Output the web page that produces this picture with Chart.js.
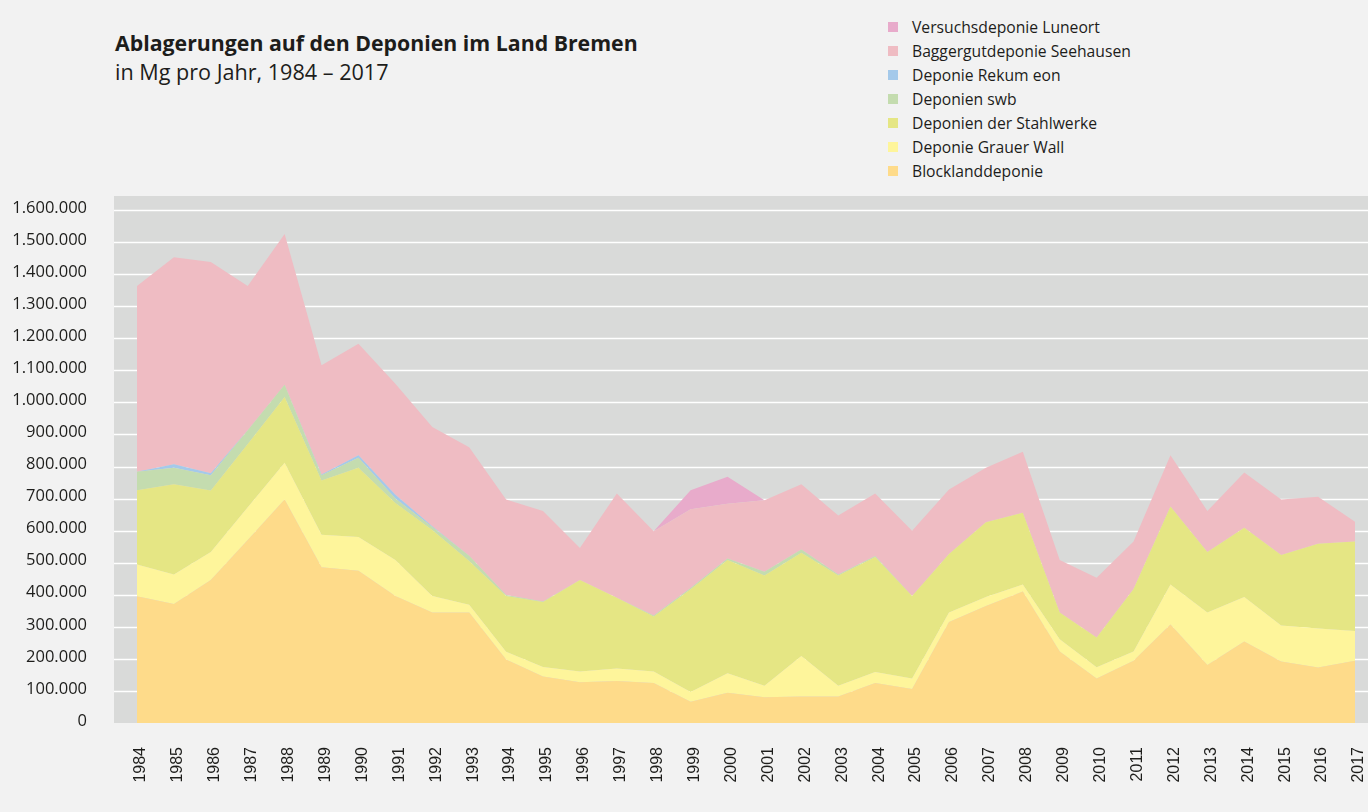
<!DOCTYPE html>
<html>
<head>
<meta charset="utf-8">
<script src="https://cdn.jsdelivr.net/npm/chart.js@4.4.1/dist/chart.umd.min.js"></script>
<style>
  html, body { margin:0; padding:0; background:#f2f2f2; }
  body { width:1368px; height:812px; position:relative; overflow:hidden; font-family:"Open Sans", sans-serif; color:#1d1d1b; }
  #title { position:absolute; left:115px; top:30px; font-size:21.3px; font-weight:700; line-height:26px; }
  #subtitle { position:absolute; left:115px; top:59px; font-size:21.6px; font-weight:400; line-height:26px; }
  #legend { position:absolute; left:888px; top:15px; font-size:15.7px; line-height:24px; }
  #legend div { position:relative; padding-left:24px; height:24px; white-space:nowrap; }
  #legend span { position:absolute; left:0; top:7px; width:10px; height:10px; }
  #c { position:absolute; left:0; top:0; }
</style>
</head>
<body>
<div id="title">Ablagerungen auf den Deponien im Land Bremen</div>
<div id="subtitle">in Mg pro Jahr, 1984 – 2017</div>
<div id="legend"></div>
<canvas id="c" width="1368" height="812"></canvas>
<script>
const years = ["1984","1985","1986","1987","1988","1989","1990","1991","1992","1993","1994","1995","1996","1997","1998","1999","2000","2001","2002","2003","2004","2005","2006","2007","2008","2009","2010","2011","2012","2013","2014","2015","2016","2017"];

const blocklanddeponie = [395,371,446,571,697,486,475,396,345,345,198,145,127,131,125,66,94,80,83,83,125,106,315,365,410,223,139,194,307,181,254,192,173,194];
const grauerWall = [99,92,87,102,115,101,105,112,51,24,24,30,34,39,36,31,61,36,126,33,34,33,30,28,22,38,35,29,125,164,139,112,122,93];
const stahlwerke = [232,282,192,197,205,169,216,178,206,136,174,202,285,221,171,320,353,344,322,344,359,257,182,233,224,84,93,195,243,188,216,220,264,279];
const swb = [58,51,48,43,38,17,31,14,9,17,3,2,0,0,3,4,5,12,10,3,3,0,0,0,0,0,0,0,0,0,0,0,0,0];
const rekumEon = [0,11,6,0,0,2,8,12,3,0,0,0,0,0,0,0,0,0,0,0,0,0,0,0,0,0,0,0,0,0,0,0,0,0];
const seehausen = [579,646,659,450,470,341,348,346,309,338,298,282,100,325,263,246,171,223,204,184,195,204,201,170,190,163,186,148,160,128,172,173,147,62];
const luneort = [0,0,0,0,0,0,0,0,0,0,0,0,0,0,0,59,84,0,0,0,0,0,0,0,0,0,0,0,0,0,0,0,0,0];

const yTicks = [0,100000,200000,300000,400000,500000,600000,700000,800000,900000,1000000,1100000,1200000,1300000,1400000,1500000,1600000];

const series = [
  {label:"Blocklanddeponie", data:blocklanddeponie, color:"#fedb8a"},
  {label:"Deponie Grauer Wall", data:grauerWall, color:"#fef59b"},
  {label:"Deponien der Stahlwerke", data:stahlwerke, color:"#e5e684"},
  {label:"Deponien swb", data:swb, color:"#c4dcaf"},
  {label:"Deponie Rekum eon", data:rekumEon, color:"#a4c9ea"},
  {label:"Baggergutdeponie Seehausen", data:seehausen, color:"#efbcc3"},
  {label:"Versuchsdeponie Luneort", data:luneort, color:"#e8abcb"}
];

const fmt = v => String(Math.round(v)).replace(/\B(?=(\d{3})+(?!\d))/g, ".");

const bgPlugin = {
  id: "bgGrid",
  beforeDraw(chart) {
    const {ctx, chartArea} = chart;
    const y = chart.scales.y;
    const left = chartArea.left - 23, right = chart.width;
    const top = chartArea.top - 14;
    ctx.save();
    ctx.fillStyle = "#d9dad9";
    ctx.fillRect(left, top, right - left, chartArea.bottom - top);
    ctx.strokeStyle = "#ffffff";
    ctx.lineWidth = 1.6;
    y.ticks.forEach(t => {
      if (t.value === 0) return;
      const py = Math.round(y.getPixelForValue(t.value)) + 0.5;
      ctx.beginPath();
      ctx.moveTo(left, py);
      ctx.lineTo(right, py);
      ctx.stroke();
    });
    ctx.restore();
  }
};

const chart = new Chart(document.getElementById("c"), {
  type: "line",
  data: {
    labels: years,
    datasets: series.map((s, i) => ({
      label: s.label,
      data: s.data.map(v => v * 1000),
      backgroundColor: s.color,
      borderColor: s.color,
      borderWidth: 0,
      pointRadius: 0,
      tension: 0,
      fill: i === 0 ? "origin" : "-1"
    }))
  },
  options: {
    responsive: false,
    animation: false,
    layout: { padding: { top: 210, right: 13, left: 0, bottom: 0 } },
    plugins: { legend: { display: false }, tooltip: { enabled: false }, title: { display: false } },
    elements: { line: { borderWidth: 0 } },
    scales: {
      x: {
        type: "category",
        offset: false,
        grid: { display: false, drawTicks: false },
        border: { display: false },
        ticks: {
          autoSkip: false, maxRotation: 90, minRotation: 90, padding: 24, labelOffset: 4,
          color: "#1d1d1b", font: { family: "Liberation Sans", size: 16 }
        },
        afterFit(s) { s.height = 89; s.paddingLeft = 0; s.paddingRight = 0; }
      },
      y: {
        stacked: true,
        min: 0, max: 1600000,
        grid: { display: false, drawTicks: false },
        border: { display: false },
        afterBuildTicks(s) { s.ticks = yTicks.map(v => ({ value: v })); },
        ticks: {
          padding: 50,
          labelOffset: -2,
          color: "#1d1d1b",
          font: { family: "Open Sans", size: 16.5 },
          callback: v => fmt(v)
        },
        afterFit(s) { s.width = 137; }
      }
    }
  },
  plugins: [bgPlugin]
});

const legend = document.getElementById("legend");
series.slice().reverse().forEach(s => {
  const d = document.createElement("div");
  const sw = document.createElement("span");
  sw.style.background = s.color;
  d.appendChild(sw);
  d.appendChild(document.createTextNode(s.label));
  legend.appendChild(d);
});
</script>
</body>
</html>
